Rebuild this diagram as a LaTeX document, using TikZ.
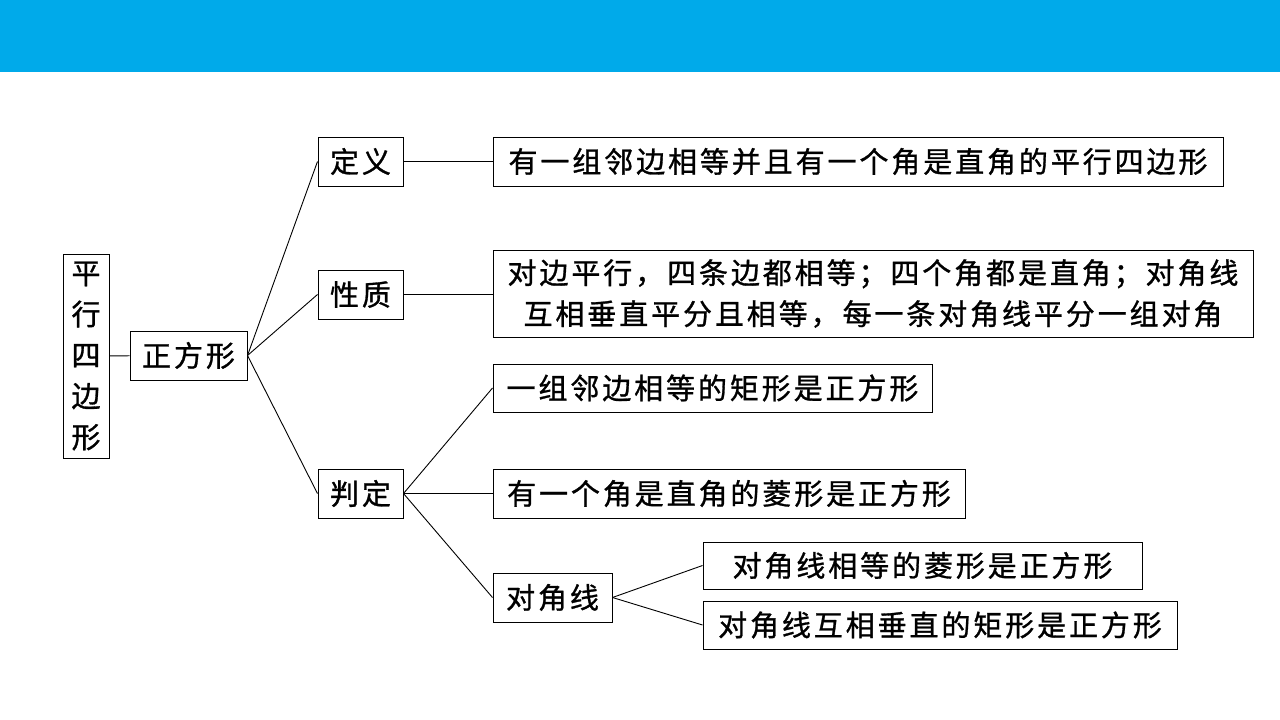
\documentclass[tikz,border=0pt]{standalone}
\usepackage{fontspec}
\newfontfamily\cjk[LetterSpace=10,FakeBold=1]{Noto Sans CJK SC}
\usepackage{tikz}
\usetikzlibrary{positioning}
\definecolor{barblue}{RGB}{0,170,234}

\begin{document}
\begin{tikzpicture}[
    x=1pt, y=-1pt,
    cell/.style={draw, line width=1pt, inner sep=0pt, align=center, font=\cjk\fontsize{29}{41}\selectfont},
    link/.style={line width=0.9pt}
]
\useasboundingbox (0,0) rectangle (1280,720);
\fill[white] (0,0) rectangle (1280,720);
\fill[barblue] (0,0) rectangle (1280,72);

% root and first level
\node[cell, minimum width=46pt, minimum height=204pt] (para) at (86,356) {平\\行\\四\\边\\形};
\node[cell, minimum width=117pt, minimum height=49pt] (square) at (188.5,355.5) {正方形};

\node[cell, minimum width=85pt, minimum height=49pt] (defn) at (360.5,161.5) {定义};
\node[cell, minimum width=85pt, minimum height=49pt] (prop) at (360.5,294.5) {性质};
\node[cell, minimum width=85pt, minimum height=49pt] (judge) at (360.5,493.5) {判定};

% contents
\node[cell, minimum width=730pt, minimum height=49pt] (defntxt) at (858,161.5) {有一组邻边相等并且有一个角是直角的平行四边形};
\node[cell, minimum width=760pt, minimum height=87pt] (proptxt) at (873,293.5) {对边平行，四条边都相等；四个角都是直角；对角线\\互相垂直平分且相等，每一条对角线平分一组对角};

\node[cell, minimum width=439pt, minimum height=48pt] (jrect) at (712.5,388) {一组邻边相等的矩形是正方形};
\node[cell, minimum width=472pt, minimum height=49pt] (jrhomb) at (729,493.5) {有一个角是直角的菱形是正方形};
\node[cell, minimum width=119pt, minimum height=49pt] (diag) at (552.5,597.5) {对角线};

\node[cell, minimum width=439pt, minimum height=47pt] (drhomb) at (922.5,565.5) {对角线相等的菱形是正方形};
\node[cell, minimum width=474pt, minimum height=48pt] (drect) at (940,625) {对角线互相垂直的矩形是正方形};

\draw[link] (para) -- (square);
\draw[link] (square.east) -- (defn.west);
\draw[link] (square.east) -- (prop.west);
\draw[link] (square.east) -- (judge.west);
\draw[link] (defn) -- (defntxt);
\draw[link] (prop.east) -- (proptxt.west |- prop.east);
\draw[link] (judge.east) -- (jrect.west);
\draw[link] (judge.east) -- (jrhomb.west);
\draw[link] (judge.east) -- (diag.west);
\draw[link] (diag.east) -- (drhomb.west);
\draw[link] (diag.east) -- (drect.west);
\end{tikzpicture}
\end{document}
